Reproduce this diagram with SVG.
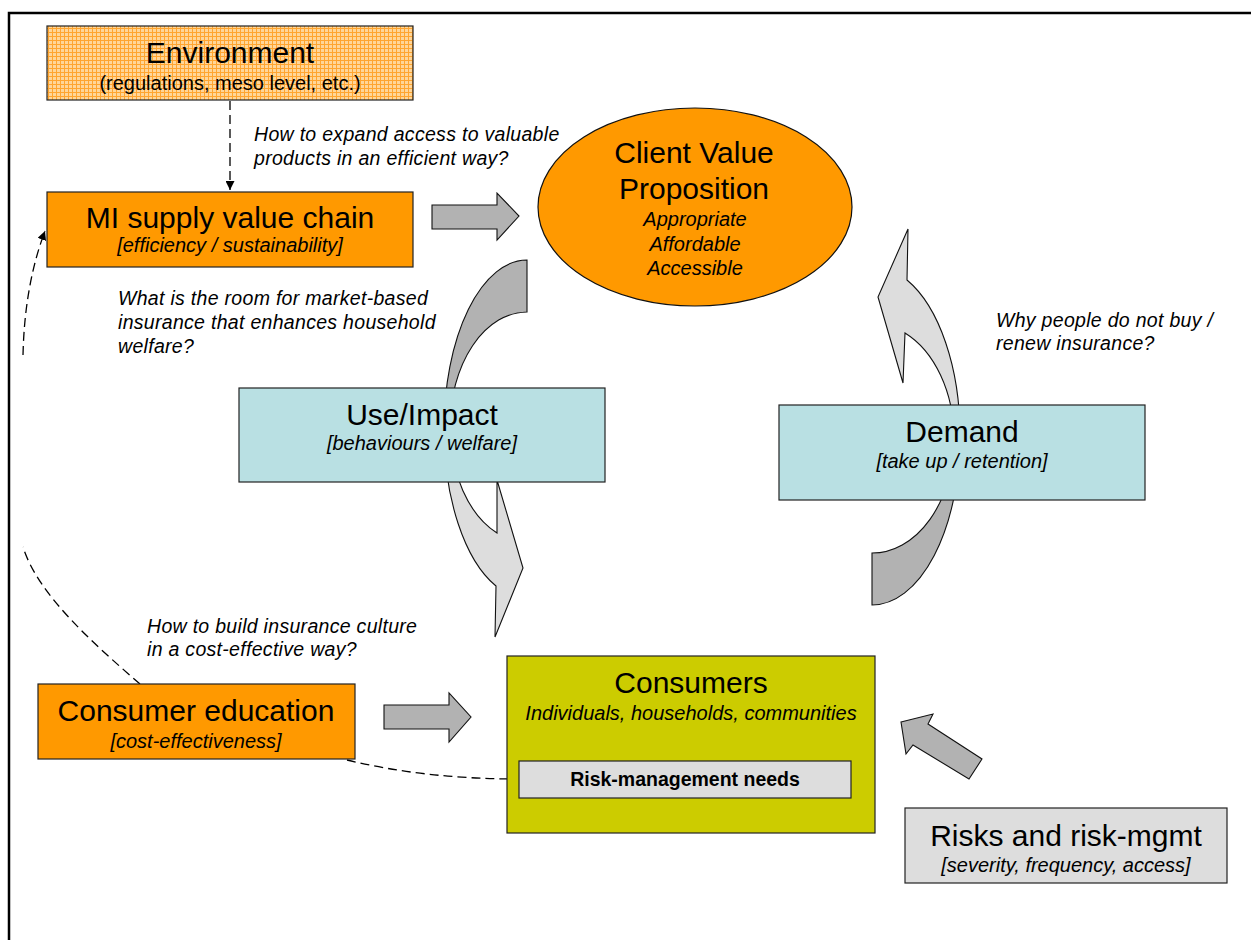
<svg xmlns="http://www.w3.org/2000/svg" width="1251" height="940" viewBox="0 0 1251 940">
<defs>
<pattern id="envPat" width="4" height="4" patternUnits="userSpaceOnUse">
<rect width="4" height="4" fill="#FFD699"/>
<rect width="4" height="1" fill="#FFA530"/>
<rect width="1" height="4" fill="#FFA530"/>
</pattern>
<marker id="ah" viewBox="0 0 10 10" refX="10" refY="5" markerWidth="9" markerHeight="9" markerUnits="userSpaceOnUse" orient="auto">
<path d="M0,0 L10,5 L0,10 Z" fill="#000"/>
</marker>
<style>
.box{stroke:#222;stroke-width:1.2}
.t{font-family:"Liberation Sans",Arial,sans-serif;fill:#000}
.title{font-size:30px}
.sub{font-size:20px;font-style:italic}
.q{font-size:19.5px;font-style:italic;letter-spacing:0.3px}
.blk{fill:#B2B2B2;stroke:#111;stroke-width:1.1;stroke-linejoin:miter}
.lt{fill:#DDDDDD;stroke:#111;stroke-width:1.1}
.dash{fill:none;stroke:#000;stroke-width:1.3;stroke-dasharray:9 5}
</style>
</defs>
<rect width="1251" height="940" fill="#fff"/>
<path d="M9,940 V13 H1251" fill="none" stroke="#000" stroke-width="2.5"/>

<g id="connectors">
<path class="blk" d="M527,260 A83,169 0 0 0 444,429 L450,427 A77,115 0 0 1 527,312 Z"/>
<path class="lt" d="M444,429 A83,169 0 0 0 496,586 L495,637 L523,568 L497,480 L497,533 A77,115 0 0 1 450,427 Z"/>
<path class="blk" d="M872,605 A88,169 0 0 0 960,436 L954,438 A82,115 0 0 1 872,553 Z"/>
<path class="lt" d="M960,436 A88,169 0 0 0 907,280 L908,229 L878,297 L903,383 L905,333 A82,115 0 0 1 954,438 Z"/>
<polygon class="blk" points="432,205 497,205 497,193 519,216 497,240 497,229 432,229"/>
<polygon class="blk" points="384,705 449,705 449,693 471,717 449,742 449,729 384,729"/>
<polygon class="blk" points="901,722 933,714 928,724 982,759 969,779 913,745 906,754"/>
<path class="dash" d="M230,101 V190" marker-end="url(#ah)"/>
<path class="dash" d="M23,355 C24,310 31,268 45,231" marker-end="url(#ah)"/>
<path class="dash" d="M140,684 C95,645 38,595 23,547"/>
<path class="dash" d="M347,760 Q425,779 519,779"/>
</g>

<g id="environment">
<rect class="box" x="47" y="26" width="366" height="74" fill="url(#envPat)"/>
<text class="t title" x="230" y="63" text-anchor="middle">Environment</text>
<text class="t" x="230" y="90" text-anchor="middle" font-size="20">(regulations, meso level, etc.)</text>
</g>

<g id="mi-supply">
<rect class="box" x="47" y="192" width="366" height="75" fill="#FF9900"/>
<text class="t title" x="230" y="228" text-anchor="middle">MI supply value chain</text>
<text class="t sub" x="230" y="252" text-anchor="middle">[efficiency / sustainability]</text>
</g>

<g id="client-value">
<ellipse cx="695" cy="207" rx="157" ry="99" fill="#FF9900" stroke="#111" stroke-width="1.2"/>
<text class="t title" x="694" y="163" text-anchor="middle">Client Value</text>
<text class="t title" x="694" y="199" text-anchor="middle">Proposition</text>
<text class="t sub" x="695" y="226" text-anchor="middle">Appropriate</text>
<text class="t sub" x="695" y="251" text-anchor="middle">Affordable</text>
<text class="t sub" x="695" y="275" text-anchor="middle">Accessible</text>
</g>

<g id="use-impact">
<rect class="box" x="239" y="388" width="366" height="94" fill="#B9E0E3"/>
<text class="t title" x="422" y="425" text-anchor="middle">Use/Impact</text>
<text class="t sub" x="422" y="450" text-anchor="middle">[behaviours / welfare]</text>
</g>

<g id="demand">
<rect class="box" x="779" y="405" width="366" height="95" fill="#B9E0E3"/>
<text class="t title" x="962" y="442" text-anchor="middle">Demand</text>
<text class="t sub" x="962" y="468" text-anchor="middle">[take up / retention]</text>
</g>

<g id="consumer-education">
<rect class="box" x="38" y="684" width="317" height="75" fill="#FF9900"/>
<text class="t title" x="196" y="721" text-anchor="middle">Consumer education</text>
<text class="t sub" x="196" y="748" text-anchor="middle">[cost-effectiveness]</text>
</g>

<g id="consumers">
<rect class="box" x="507" y="656" width="368" height="177" fill="#CCCC00"/>
<text class="t title" x="691" y="693" text-anchor="middle">Consumers</text>
<text class="t sub" x="691" y="720" text-anchor="middle">Individuals, households, communities</text>
</g>

<g id="risk-needs">
<rect class="box" x="519" y="761" width="332" height="37" fill="#DDDDDD"/>
<text class="t" x="685" y="786" text-anchor="middle" font-size="19.5" font-weight="bold">Risk-management needs</text>
</g>

<g id="risks">
<rect class="box" x="905" y="808" width="322" height="75" fill="#DDDDDD"/>
<text class="t title" x="1066" y="846" text-anchor="middle">Risks and risk-mgmt</text>
<text class="t sub" x="1066" y="872" text-anchor="middle">[severity, frequency, access]</text>
</g>

<g id="questions">
<text class="t q" x="254" y="141">How to expand access to valuable</text>
<text class="t q" x="254" y="165">products in an efficient way?</text>
<text class="t q" x="118" y="305">What is the room for market-based</text>
<text class="t q" x="118" y="329">insurance that enhances household</text>
<text class="t q" x="118" y="353">welfare?</text>
<text class="t q" x="996" y="327">Why people do not buy /</text>
<text class="t q" x="996" y="350">renew insurance?</text>
<text class="t q" x="147" y="633">How to build insurance culture</text>
<text class="t q" x="147" y="656">in a cost-effective way?</text>
</g>
</svg>
